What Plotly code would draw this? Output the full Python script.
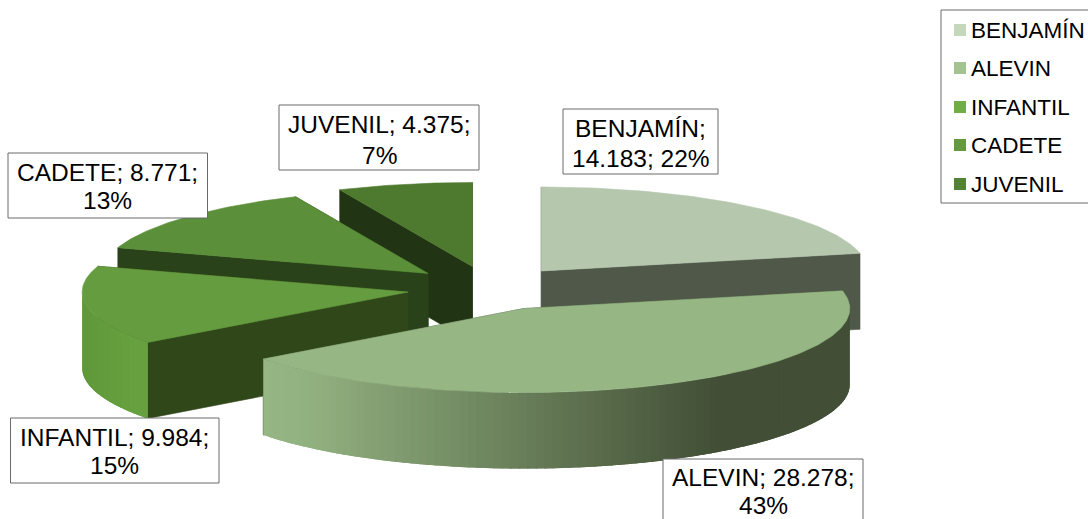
import math
import plotly.graph_objects as go

# ---- data ----
categories = ["BENJAMÍN", "ALEVIN", "INFANTIL", "CADETE", "JUVENIL"]
values = [14183, 28278, 9984, 8771, 4375]

# ---- styles ----
top_colors = ["#b5c8ae", "#96b684", "#659c3f", "#5b8f39", "#4d7a2e"]
wall_colors = ["#50584a", "#424f36", "#2f4719", "#2a4219", "#213413"]
legend_colors = ["#c5d8bc", "#a3c391", "#70ad47", "#65993f", "#548235"]
line_breaks = [0, 1, 1, 1, 1]  # 0 = break after the name, 1 = after the value

# ---- layout / projection of the tilted, exploded pie (page pixels) ----
W, H = 1088, 519
CX, CY = 489.5, 288.3
RX, RY = 326, 84
DEPTH = 76
EXPLODE_X, EXPLODE_Y = 0.253, 0.265
# label boxes: x0, y0, x1, y1, and the vertical centres of the two text lines
BOXES = [(563, 109, 718, 174), (663, 459, 863, 530), (10.5, 418, 219, 483), (8, 153, 207.5, 218), (279, 105, 479, 170)]
LINE_YS = [(128, 158), (477, 505), (437, 465.5), (172.5, 200.5), (124, 155)]
LEG_BOX = (941, 10, 1089, 203)
LEG_X_MARK, LEG_X_TEXT = 960, 969
LEG_YS = [30, 68, 107, 145, 184]
FONT = "Liberation Sans, Arial, sans-serif"
BORDER = "#6a6a6a"


def mix(c1, c2, t):
    a = [int(c1[i:i + 2], 16) for i in (1, 3, 5)]
    b = [int(c2[i:i + 2], 16) for i in (1, 3, 5)]
    return "rgb(%d,%d,%d)" % tuple(round(p + (q - p) * t) for p, q in zip(a, b))


def arc(cx, cy, a0, a1, step=1.0):
    n = max(2, int(abs(a1 - a0) / step) + 1)
    pts = []
    for i in range(n + 1):
        d = math.radians(a0 + (a1 - a0) * i / n)
        pts.append((cx + RX * math.sin(d), cy - RY * math.cos(d)))
    return pts


fig = go.Figure()


def poly(pts, color, lw=0.6):
    fig.add_trace(go.Scatter(
        x=[p[0] for p in pts] + [pts[0][0]], y=[p[1] for p in pts] + [pts[0][1]],
        mode="lines", fill="toself", fillcolor=color,
        line=dict(color=color, width=lw), hoverinfo="skip", showlegend=False))


total = sum(values)
angles = []
acc = 0.0
for v in values:
    a0 = acc
    acc += 360.0 * v / total
    angles.append((a0, acc))


def rim_color(i, x, left):
    if i == 1:  # the large slice has a light-to-dark sweep along its rim
        t = (x - left) / 455.0
        if t < 0.1:
            return mix("#96b684", "#92b180", t / 0.1)
        return mix("#92b180", wall_colors[1], min(1.0, (t - 0.1) / 0.9))
    return mix("#609839", "#66a03f", min(1.0, (x - left) / 50.0))


def draw_slice(i):
    a0, a1 = angles[i]
    mid = math.radians((a0 + a1) / 2)
    cx = CX + EXPLODE_X * RX * math.sin(mid)
    cy = CY - EXPLODE_Y * RY * math.cos(mid)
    # radial walls, back one first
    for a in sorted((a0, a1), key=lambda d: -math.cos(math.radians(d))):
        d = math.radians(a)
        px, py = cx + RX * math.sin(d), cy - RY * math.cos(d)
        poly([(cx, cy), (px, py), (px, py + DEPTH), (cx, cy + DEPTH)], wall_colors[i])
    # front-facing rim: overlapping strips painted left to right, so no seams show
    lo, hi = max(a0, 90.0), min(a1, 270.0)
    if lo < hi:
        left = min(p[0] for p in arc(cx, cy, lo, hi))
        n = int((hi - lo) / 1.5) + 1
        st = (hi - lo) / n
        for k in range(n):
            b1 = hi - st * k
            b0 = max(lo, b1 - 2.2 * st)
            seg = arc(cx, cy, b1, b0, 0.5)
            col = rim_color(i, (seg[0][0] + seg[len(seg) // 2][0]) / 2, left)
            poly(seg + [(p[0], p[1] + DEPTH) for p in reversed(seg)], col, lw=0)
    # top face
    poly([(cx, cy)] + arc(cx, cy, a0, a1), top_colors[i])


for i in [4, 3, 0, 2, 1]:
    draw_slice(i)

# legend swatches and labels
fig.add_trace(go.Scatter(
    x=[LEG_X_MARK] * len(categories), y=LEG_YS, mode="markers",
    marker=dict(symbol="square", size=12, color=legend_colors, line=dict(width=0)),
    hoverinfo="skip", showlegend=False))

annotations = []
shapes = [dict(type="rect", x0=LEG_BOX[0], y0=LEG_BOX[1], x1=LEG_BOX[2], y1=LEG_BOX[3],
               line=dict(color=BORDER, width=1), fillcolor="white", layer="below")]
for name, y in zip(categories, LEG_YS):
    annotations.append(dict(x=LEG_X_TEXT, y=y, text=name, xanchor="left", yanchor="middle", showarrow=False,
                            font=dict(family=FONT, size=22.5, color="black")))

for name, v, brk, box, ys in zip(categories, values, line_breaks, BOXES, LINE_YS):
    pct = round(100.0 * v / total)
    num = f"{v:,}".replace(",", ".")
    lines = (f"{name};", f"{num}; {pct}%") if brk == 0 else (f"{name}; {num};", f"{pct}%")
    shapes.append(dict(type="rect", x0=box[0], y0=box[1], x1=box[2], y1=box[3],
                       line=dict(color=BORDER, width=1), fillcolor="white", layer="above"))
    for text, y in zip(lines, ys):
        annotations.append(dict(x=(box[0] + box[2]) / 2, y=y, text=text, xanchor="center", yanchor="middle",
                                showarrow=False, font=dict(family=FONT, size=24.5, color="black")))

fig.update_layout(
    width=W, height=H, margin=dict(l=0, r=0, t=0, b=0), paper_bgcolor="white", plot_bgcolor="white",
    xaxis=dict(range=[0, W], visible=False, fixedrange=True),
    yaxis=dict(range=[H, 0], visible=False, fixedrange=True),
    shapes=shapes, annotations=annotations, showlegend=False)

fig.write_html("out.html", config={"displayModeBar": False},
               post_script="document.body.style.margin='0';")
